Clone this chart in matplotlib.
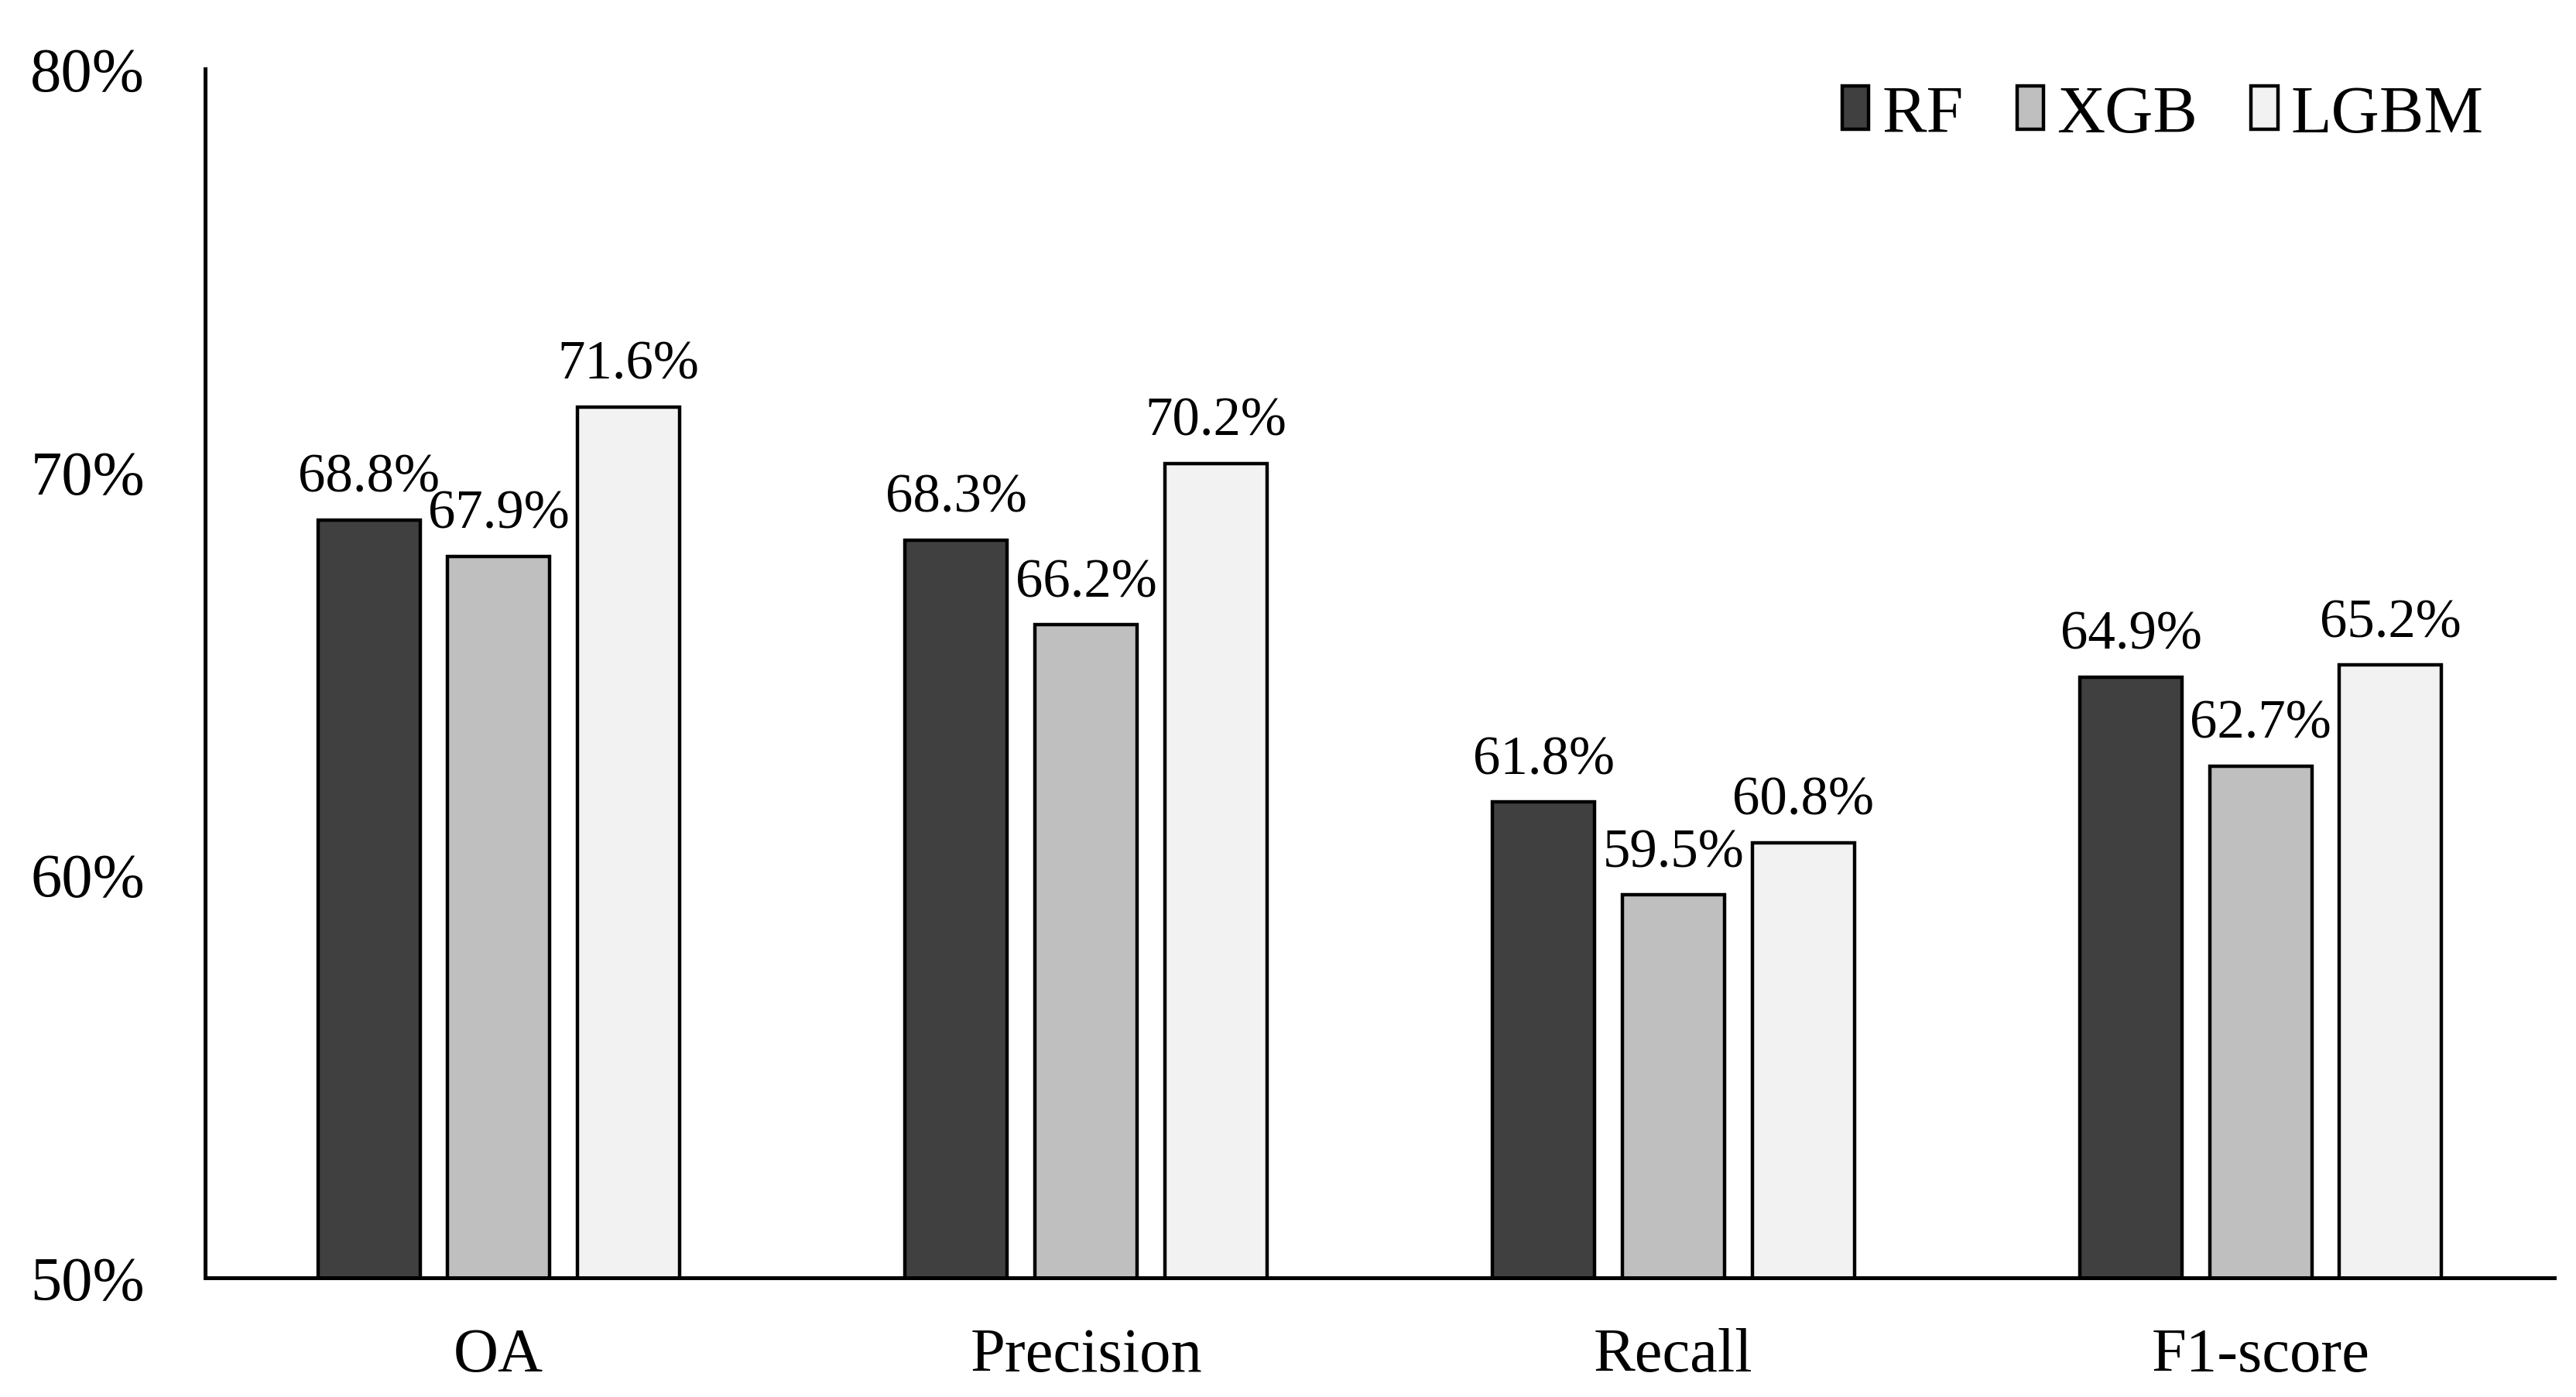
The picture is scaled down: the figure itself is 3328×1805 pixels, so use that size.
import numpy as np
import matplotlib
matplotlib.use('Agg')
import matplotlib.pyplot as plt
from matplotlib.ticker import FuncFormatter

categories = ["OA", "Precision", "Recall", "F1-score"]
models = ["RF", "XGB", "LGBM"]
rf = [68.8, 68.3, 61.8, 64.9]
xgb = [67.9, 66.2, 59.5, 62.7]
lgbm = [71.6, 70.2, 60.8, 65.2]
yticks = [50, 60, 70, 80]

plt.rcParams['font.family'] = ['Liberation Serif', 'DejaVu Serif']

fig = plt.figure(figsize=(33.28, 18.06), dpi=100)
ax = fig.add_axes([0.0796, 0.0853, 0.912, 0.865])

colors = ['#404040', '#BFBFBF', '#F2F2F2']
x = np.arange(len(categories))
width = 0.174
pitch = 0.221

for i, (vals, name) in enumerate(zip([rf, xgb, lgbm], models)):
    pos = x + (i - 1) * pitch
    bars = ax.bar(pos, vals, width, color=colors[i], edgecolor='black',
                  linewidth=3.2, label=name, zorder=3)
    for b, v in zip(bars, vals):
        ax.annotate("%.1f%%" % v, (b.get_x() + b.get_width() / 2, v),
                    xytext=(0, 16), textcoords='offset points',
                    ha='center', va='bottom', fontsize=51)

ax.set_xlim(-0.5, 3.5)
ax.set_ylim(50, 80)
ax.set_yticks(yticks)
ax.yaxis.set_major_formatter(FuncFormatter(lambda v, p: "%d%%" % v))
ax.set_xticks(x)
ax.set_xticklabels(categories)
ax.tick_params(axis='y', length=0, pad=56, labelsize=58)
ax.tick_params(axis='x', length=0, pad=46, labelsize=58)

for s in ['top', 'right']:
    ax.spines[s].set_visible(False)
for s in ['left', 'bottom']:
    ax.spines[s].set_linewidth(3.6)
ax.spines['left'].set_zorder(4)
ax.spines['bottom'].set_zorder(4)

ax.legend(loc='upper right', bbox_to_anchor=(0.987, 1.02), ncol=3, frameon=False,
          fontsize=62, handlelength=0.4, handleheight=0.62,
          handletextpad=0.2, columnspacing=0.8, borderaxespad=0.2)

fig.savefig("out.png", dpi=100)
